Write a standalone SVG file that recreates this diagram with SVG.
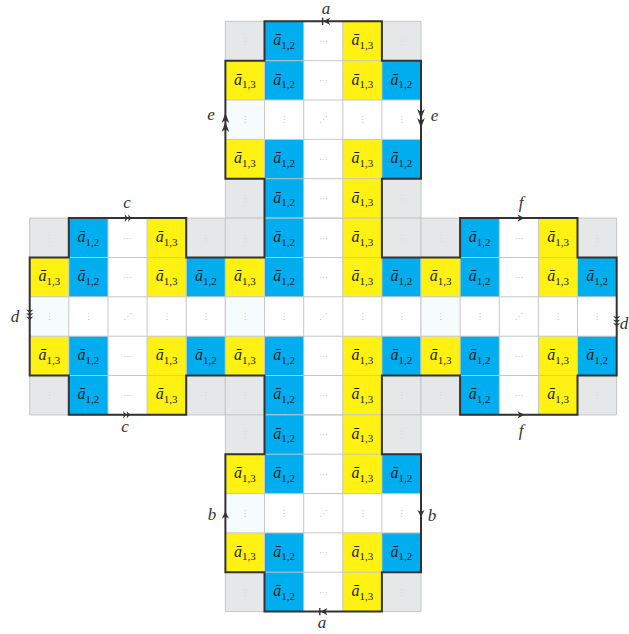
<svg xmlns="http://www.w3.org/2000/svg" xmlns:xlink="http://www.w3.org/1999/xlink" width="629" height="634" viewBox="0 0 629 634">
<style>
.g{fill:#e6e7e8}
.b{fill:#00aeef}
.y{fill:#fff212}
.w0{fill:#f6fbfc}
.grid{fill:none;stroke:#c6c6c6;stroke-width:1}
.t{font-family:"Liberation Serif","DejaVu Serif",serif;font-style:italic;font-size:16px;fill:#1e1e1e;text-anchor:middle}
.s{font-style:normal;font-size:11px}
.d{font-family:"DejaVu Sans",sans-serif;font-size:8px;fill:#bcbcbc;text-anchor:middle}
.dg{font-family:"DejaVu Sans",sans-serif;font-size:8px;fill:#d6d6d6;text-anchor:middle}
.lbl{font-family:"Liberation Serif","DejaVu Serif",serif;font-style:italic;font-size:17px;fill:#333;text-anchor:middle}
.outline{fill:none;stroke:#333;stroke-width:2;stroke-linejoin:miter}
.mk{fill:#333;stroke:none}
.bar{stroke:#333;stroke-width:1.4}
</style>
<defs>
<path id="ah" d="M0,0 L-7,-3.6 L-5,0 L-7,3.6 Z"/>
<path id="ahl" d="M0,0 L-10,-3.8 L-7,0 L-10,3.8 Z"/>
<path id="ch" d="M0,0 L-3.5,-3.8 L-2.5,0 L-3.5,3.8 Z"/>
</defs>
<rect width="629" height="634" fill="#fff"/>

<g id="block-top" transform="translate(225.4,21.3)">
<rect class="g" x="0" y="0" width="39.1" height="39.4"/><rect class="g" x="156.5" y="0" width="39.1" height="39.4"/><rect class="g" x="0" y="157.4" width="39.1" height="39.4"/><rect class="g" x="156.5" y="157.4" width="39.1" height="39.4"/>
<rect class="b" x="39.1" y="0" width="39.2" height="78.7"/><rect class="b" x="39.1" y="118.1" width="39.2" height="78.7"/><rect class="b" x="156.5" y="39.4" width="39.1" height="39.3"/><rect class="b" x="156.5" y="118.1" width="39.1" height="39.3"/>
<rect class="y" x="117.4" y="0" width="39.1" height="78.7"/><rect class="y" x="117.4" y="118.1" width="39.1" height="78.7"/><rect class="y" x="0" y="39.4" width="39.1" height="39.3"/><rect class="y" x="0" y="118.1" width="39.1" height="39.3"/>
<rect class="w0" x="0" y="78.7" width="39.1" height="39.4"/>
<path class="grid" d="M0,0H195.6M0,39.4H195.6M0,78.7H195.6M0,118.1H195.6M0,157.4H195.6M0,196.8H195.6M0,0V196.8M39.1,0V196.8M78.3,0V196.8M117.4,0V196.8M156.5,0V196.8M195.6,0V196.8"/>
<text class="t" x="58.7" y="24">ā<tspan class="s" dy="3.5">1,2</tspan></text><text class="t" x="137" y="24">ā<tspan class="s" dy="3.5">1,3</tspan></text>
<text class="t" x="19.6" y="63.3">ā<tspan class="s" dy="3.5">1,3</tspan></text><text class="t" x="58.7" y="63.3">ā<tspan class="s" dy="3.5">1,2</tspan></text><text class="t" x="137" y="63.3">ā<tspan class="s" dy="3.5">1,3</tspan></text><text class="t" x="176.1" y="63.3">ā<tspan class="s" dy="3.5">1,2</tspan></text>
<text class="t" x="19.6" y="142">ā<tspan class="s" dy="3.5">1,3</tspan></text><text class="t" x="58.7" y="142">ā<tspan class="s" dy="3.5">1,2</tspan></text><text class="t" x="137" y="142">ā<tspan class="s" dy="3.5">1,3</tspan></text><text class="t" x="176.1" y="142">ā<tspan class="s" dy="3.5">1,2</tspan></text>
<text class="t" x="58.7" y="181.4">ā<tspan class="s" dy="3.5">1,2</tspan></text><text class="t" x="137" y="181.4">ā<tspan class="s" dy="3.5">1,3</tspan></text>
<text class="d" x="97.8" y="22.5">⋯</text><text class="d" x="97.8" y="61.8">⋯</text><text class="d" x="97.8" y="140.5">⋯</text><text class="d" x="97.8" y="179.9">⋯</text>
<text class="d" x="19.6" y="101.2">⋮</text><text class="d" x="58.7" y="101.2">⋮</text><text class="d" x="97.8" y="101.2">⋰</text><text class="d" x="137" y="101.2">⋮</text><text class="d" x="176.1" y="101.2">⋮</text>
<text class="dg" x="19.6" y="22.5">⋮</text><text class="dg" x="176.1" y="22.5">⋮</text><text class="dg" x="19.6" y="179.9">⋮</text><text class="dg" x="176.1" y="179.9">⋮</text>
</g>

<g id="block-left" transform="translate(29.7,218.1)">
<rect class="g" x="0" y="0" width="39.1" height="39.4"/><rect class="g" x="156.5" y="0" width="39.1" height="39.4"/><rect class="g" x="0" y="157.4" width="39.1" height="39.4"/><rect class="g" x="156.5" y="157.4" width="39.1" height="39.4"/>
<rect class="b" x="39.1" y="0" width="39.2" height="78.7"/><rect class="b" x="39.1" y="118.1" width="39.2" height="78.7"/><rect class="b" x="156.5" y="39.4" width="39.1" height="39.3"/><rect class="b" x="156.5" y="118.1" width="39.1" height="39.3"/>
<rect class="y" x="117.4" y="0" width="39.1" height="78.7"/><rect class="y" x="117.4" y="118.1" width="39.1" height="78.7"/><rect class="y" x="0" y="39.4" width="39.1" height="39.3"/><rect class="y" x="0" y="118.1" width="39.1" height="39.3"/>
<rect class="w0" x="0" y="78.7" width="39.1" height="39.4"/>
<path class="grid" d="M0,0H195.6M0,39.4H195.6M0,78.7H195.6M0,118.1H195.6M0,157.4H195.6M0,196.8H195.6M0,0V196.8M39.1,0V196.8M78.3,0V196.8M117.4,0V196.8M156.5,0V196.8M195.6,0V196.8"/>
<text class="t" x="58.7" y="24">ā<tspan class="s" dy="3.5">1,2</tspan></text><text class="t" x="137" y="24">ā<tspan class="s" dy="3.5">1,3</tspan></text>
<text class="t" x="19.6" y="63.3">ā<tspan class="s" dy="3.5">1,3</tspan></text><text class="t" x="58.7" y="63.3">ā<tspan class="s" dy="3.5">1,2</tspan></text><text class="t" x="137" y="63.3">ā<tspan class="s" dy="3.5">1,3</tspan></text><text class="t" x="176.1" y="63.3">ā<tspan class="s" dy="3.5">1,2</tspan></text>
<text class="t" x="19.6" y="142">ā<tspan class="s" dy="3.5">1,3</tspan></text><text class="t" x="58.7" y="142">ā<tspan class="s" dy="3.5">1,2</tspan></text><text class="t" x="137" y="142">ā<tspan class="s" dy="3.5">1,3</tspan></text><text class="t" x="176.1" y="142">ā<tspan class="s" dy="3.5">1,2</tspan></text>
<text class="t" x="58.7" y="181.4">ā<tspan class="s" dy="3.5">1,2</tspan></text><text class="t" x="137" y="181.4">ā<tspan class="s" dy="3.5">1,3</tspan></text>
<text class="d" x="97.8" y="22.5">⋯</text><text class="d" x="97.8" y="61.8">⋯</text><text class="d" x="97.8" y="140.5">⋯</text><text class="d" x="97.8" y="179.9">⋯</text>
<text class="d" x="19.6" y="101.2">⋮</text><text class="d" x="58.7" y="101.2">⋮</text><text class="d" x="97.8" y="101.2">⋰</text><text class="d" x="137" y="101.2">⋮</text><text class="d" x="176.1" y="101.2">⋮</text>
<text class="dg" x="19.6" y="22.5">⋮</text><text class="dg" x="176.1" y="22.5">⋮</text><text class="dg" x="19.6" y="179.9">⋮</text><text class="dg" x="176.1" y="179.9">⋮</text>
</g>

<g id="block-center" transform="translate(225.4,218.1)">
<rect class="g" x="0" y="0" width="39.1" height="39.4"/><rect class="g" x="156.5" y="0" width="39.1" height="39.4"/><rect class="g" x="0" y="157.4" width="39.1" height="39.4"/><rect class="g" x="156.5" y="157.4" width="39.1" height="39.4"/>
<rect class="b" x="39.1" y="0" width="39.2" height="78.7"/><rect class="b" x="39.1" y="118.1" width="39.2" height="78.7"/><rect class="b" x="156.5" y="39.4" width="39.1" height="39.3"/><rect class="b" x="156.5" y="118.1" width="39.1" height="39.3"/>
<rect class="y" x="117.4" y="0" width="39.1" height="78.7"/><rect class="y" x="117.4" y="118.1" width="39.1" height="78.7"/><rect class="y" x="0" y="39.4" width="39.1" height="39.3"/><rect class="y" x="0" y="118.1" width="39.1" height="39.3"/>
<rect class="w0" x="0" y="78.7" width="39.1" height="39.4"/>
<path class="grid" d="M0,0H195.6M0,39.4H195.6M0,78.7H195.6M0,118.1H195.6M0,157.4H195.6M0,196.8H195.6M0,0V196.8M39.1,0V196.8M78.3,0V196.8M117.4,0V196.8M156.5,0V196.8M195.6,0V196.8"/>
<text class="t" x="58.7" y="24">ā<tspan class="s" dy="3.5">1,2</tspan></text><text class="t" x="137" y="24">ā<tspan class="s" dy="3.5">1,3</tspan></text>
<text class="t" x="19.6" y="63.3">ā<tspan class="s" dy="3.5">1,3</tspan></text><text class="t" x="58.7" y="63.3">ā<tspan class="s" dy="3.5">1,2</tspan></text><text class="t" x="137" y="63.3">ā<tspan class="s" dy="3.5">1,3</tspan></text><text class="t" x="176.1" y="63.3">ā<tspan class="s" dy="3.5">1,2</tspan></text>
<text class="t" x="19.6" y="142">ā<tspan class="s" dy="3.5">1,3</tspan></text><text class="t" x="58.7" y="142">ā<tspan class="s" dy="3.5">1,2</tspan></text><text class="t" x="137" y="142">ā<tspan class="s" dy="3.5">1,3</tspan></text><text class="t" x="176.1" y="142">ā<tspan class="s" dy="3.5">1,2</tspan></text>
<text class="t" x="58.7" y="181.4">ā<tspan class="s" dy="3.5">1,2</tspan></text><text class="t" x="137" y="181.4">ā<tspan class="s" dy="3.5">1,3</tspan></text>
<text class="d" x="97.8" y="22.5">⋯</text><text class="d" x="97.8" y="61.8">⋯</text><text class="d" x="97.8" y="140.5">⋯</text><text class="d" x="97.8" y="179.9">⋯</text>
<text class="d" x="19.6" y="101.2">⋮</text><text class="d" x="58.7" y="101.2">⋮</text><text class="d" x="97.8" y="101.2">⋰</text><text class="d" x="137" y="101.2">⋮</text><text class="d" x="176.1" y="101.2">⋮</text>
<text class="dg" x="19.6" y="22.5">⋮</text><text class="dg" x="176.1" y="22.5">⋮</text><text class="dg" x="19.6" y="179.9">⋮</text><text class="dg" x="176.1" y="179.9">⋮</text>
</g>

<g id="block-right" transform="translate(421,218.1)">
<rect class="g" x="0" y="0" width="39.1" height="39.4"/><rect class="g" x="156.5" y="0" width="39.1" height="39.4"/><rect class="g" x="0" y="157.4" width="39.1" height="39.4"/><rect class="g" x="156.5" y="157.4" width="39.1" height="39.4"/>
<rect class="b" x="39.1" y="0" width="39.2" height="78.7"/><rect class="b" x="39.1" y="118.1" width="39.2" height="78.7"/><rect class="b" x="156.5" y="39.4" width="39.1" height="39.3"/><rect class="b" x="156.5" y="118.1" width="39.1" height="39.3"/>
<rect class="y" x="117.4" y="0" width="39.1" height="78.7"/><rect class="y" x="117.4" y="118.1" width="39.1" height="78.7"/><rect class="y" x="0" y="39.4" width="39.1" height="39.3"/><rect class="y" x="0" y="118.1" width="39.1" height="39.3"/>
<rect class="w0" x="0" y="78.7" width="39.1" height="39.4"/>
<path class="grid" d="M0,0H195.6M0,39.4H195.6M0,78.7H195.6M0,118.1H195.6M0,157.4H195.6M0,196.8H195.6M0,0V196.8M39.1,0V196.8M78.3,0V196.8M117.4,0V196.8M156.5,0V196.8M195.6,0V196.8"/>
<text class="t" x="58.7" y="24">ā<tspan class="s" dy="3.5">1,2</tspan></text><text class="t" x="137" y="24">ā<tspan class="s" dy="3.5">1,3</tspan></text>
<text class="t" x="19.6" y="63.3">ā<tspan class="s" dy="3.5">1,3</tspan></text><text class="t" x="58.7" y="63.3">ā<tspan class="s" dy="3.5">1,2</tspan></text><text class="t" x="137" y="63.3">ā<tspan class="s" dy="3.5">1,3</tspan></text><text class="t" x="176.1" y="63.3">ā<tspan class="s" dy="3.5">1,2</tspan></text>
<text class="t" x="19.6" y="142">ā<tspan class="s" dy="3.5">1,3</tspan></text><text class="t" x="58.7" y="142">ā<tspan class="s" dy="3.5">1,2</tspan></text><text class="t" x="137" y="142">ā<tspan class="s" dy="3.5">1,3</tspan></text><text class="t" x="176.1" y="142">ā<tspan class="s" dy="3.5">1,2</tspan></text>
<text class="t" x="58.7" y="181.4">ā<tspan class="s" dy="3.5">1,2</tspan></text><text class="t" x="137" y="181.4">ā<tspan class="s" dy="3.5">1,3</tspan></text>
<text class="d" x="97.8" y="22.5">⋯</text><text class="d" x="97.8" y="61.8">⋯</text><text class="d" x="97.8" y="140.5">⋯</text><text class="d" x="97.8" y="179.9">⋯</text>
<text class="d" x="19.6" y="101.2">⋮</text><text class="d" x="58.7" y="101.2">⋮</text><text class="d" x="97.8" y="101.2">⋰</text><text class="d" x="137" y="101.2">⋮</text><text class="d" x="176.1" y="101.2">⋮</text>
<text class="dg" x="19.6" y="22.5">⋮</text><text class="dg" x="176.1" y="22.5">⋮</text><text class="dg" x="19.6" y="179.9">⋮</text><text class="dg" x="176.1" y="179.9">⋮</text>
</g>

<g id="block-bottom" transform="translate(225.4,414.8)">
<rect class="g" x="0" y="0" width="39.1" height="39.4"/><rect class="g" x="156.5" y="0" width="39.1" height="39.4"/><rect class="g" x="0" y="157.4" width="39.1" height="39.4"/><rect class="g" x="156.5" y="157.4" width="39.1" height="39.4"/>
<rect class="b" x="39.1" y="0" width="39.2" height="78.7"/><rect class="b" x="39.1" y="118.1" width="39.2" height="78.7"/><rect class="b" x="156.5" y="39.4" width="39.1" height="39.3"/><rect class="b" x="156.5" y="118.1" width="39.1" height="39.3"/>
<rect class="y" x="117.4" y="0" width="39.1" height="78.7"/><rect class="y" x="117.4" y="118.1" width="39.1" height="78.7"/><rect class="y" x="0" y="39.4" width="39.1" height="39.3"/><rect class="y" x="0" y="118.1" width="39.1" height="39.3"/>
<rect class="w0" x="0" y="78.7" width="39.1" height="39.4"/>
<path class="grid" d="M0,0H195.6M0,39.4H195.6M0,78.7H195.6M0,118.1H195.6M0,157.4H195.6M0,196.8H195.6M0,0V196.8M39.1,0V196.8M78.3,0V196.8M117.4,0V196.8M156.5,0V196.8M195.6,0V196.8"/>
<text class="t" x="58.7" y="24">ā<tspan class="s" dy="3.5">1,2</tspan></text><text class="t" x="137" y="24">ā<tspan class="s" dy="3.5">1,3</tspan></text>
<text class="t" x="19.6" y="63.3">ā<tspan class="s" dy="3.5">1,3</tspan></text><text class="t" x="58.7" y="63.3">ā<tspan class="s" dy="3.5">1,2</tspan></text><text class="t" x="137" y="63.3">ā<tspan class="s" dy="3.5">1,3</tspan></text><text class="t" x="176.1" y="63.3">ā<tspan class="s" dy="3.5">1,2</tspan></text>
<text class="t" x="19.6" y="142">ā<tspan class="s" dy="3.5">1,3</tspan></text><text class="t" x="58.7" y="142">ā<tspan class="s" dy="3.5">1,2</tspan></text><text class="t" x="137" y="142">ā<tspan class="s" dy="3.5">1,3</tspan></text><text class="t" x="176.1" y="142">ā<tspan class="s" dy="3.5">1,2</tspan></text>
<text class="t" x="58.7" y="181.4">ā<tspan class="s" dy="3.5">1,2</tspan></text><text class="t" x="137" y="181.4">ā<tspan class="s" dy="3.5">1,3</tspan></text>
<text class="d" x="97.8" y="22.5">⋯</text><text class="d" x="97.8" y="61.8">⋯</text><text class="d" x="97.8" y="140.5">⋯</text><text class="d" x="97.8" y="179.9">⋯</text>
<text class="d" x="19.6" y="101.2">⋮</text><text class="d" x="58.7" y="101.2">⋮</text><text class="d" x="97.8" y="101.2">⋰</text><text class="d" x="137" y="101.2">⋮</text><text class="d" x="176.1" y="101.2">⋮</text>
<text class="dg" x="19.6" y="22.5">⋮</text><text class="dg" x="176.1" y="22.5">⋮</text><text class="dg" x="19.6" y="179.9">⋮</text><text class="dg" x="176.1" y="179.9">⋮</text>
</g>

<g id="connectors">
<path class="outline" d="M264.5,21.3 H381.9 V60.7 H421 V178.7 H381.9 V257.4 H460.1 V218.1 H577.5 V257.4 H616.7 V375.5 H577.5 V414.8 H460.1 V375.5 H381.9 V454.2 H421 V572.2 H381.9 V611.6 H264.5 V572.2 H225.4 V454.2 H264.5 V375.5 H186.2 V414.8 H68.8 V375.5 H29.7 V257.4 H68.8 V218.1 H186.2 V257.4 H264.5 V178.7 H225.4 V60.7 H264.5 Z"/>
<line class="bar" x1="322.6" y1="17.6" x2="322.6" y2="25"/>
<use class="mk" xlink:href="#ah" href="#ah" transform="translate(323.2,21.3) rotate(180)"/>
<line class="bar" x1="319.8" y1="607.9" x2="319.8" y2="615.3"/>
<use class="mk" xlink:href="#ah" href="#ah" transform="translate(320.4,611.6) rotate(180)"/>
<use class="mk" xlink:href="#ahl" href="#ahl" transform="translate(225.4,113) rotate(-90)"/>
<use class="mk" xlink:href="#ahl" href="#ahl" transform="translate(225.4,122) rotate(-90)"/>
<use class="mk" xlink:href="#ahl" href="#ahl" transform="translate(421,128) rotate(90)"/>
<use class="mk" xlink:href="#ahl" href="#ahl" transform="translate(421,119) rotate(90)"/>
<use class="mk" xlink:href="#ch" href="#ch" transform="translate(128,218.1)"/>
<use class="mk" xlink:href="#ch" href="#ch" transform="translate(131.5,218.1)"/>
<use class="mk" xlink:href="#ch" href="#ch" transform="translate(126.5,414.8)"/>
<use class="mk" xlink:href="#ch" href="#ch" transform="translate(130,414.8)"/>
<use class="mk" xlink:href="#ch" href="#ch" transform="translate(29.7,313) rotate(90)"/>
<use class="mk" xlink:href="#ch" href="#ch" transform="translate(29.7,316.5) rotate(90)"/>
<use class="mk" xlink:href="#ch" href="#ch" transform="translate(29.7,320) rotate(90)"/>
<use class="mk" xlink:href="#ch" href="#ch" transform="translate(616.7,319.5) rotate(90)"/>
<use class="mk" xlink:href="#ch" href="#ch" transform="translate(616.7,323) rotate(90)"/>
<use class="mk" xlink:href="#ch" href="#ch" transform="translate(616.7,326.5) rotate(90)"/>
<use class="mk" xlink:href="#ah" href="#ah" transform="translate(524.5,218.1)"/>
<use class="mk" xlink:href="#ah" href="#ah" transform="translate(524.5,414.8)"/>
<use class="mk" xlink:href="#ah" href="#ah" transform="translate(225.4,511.5) rotate(-90)"/>
<use class="mk" xlink:href="#ah" href="#ah" transform="translate(421,517) rotate(90)"/>
</g>

<g id="labels">
<text class="lbl" x="326" y="13.5">a</text>
<text class="lbl" x="322" y="628">a</text>
<text class="lbl" x="211" y="120">e</text>
<text class="lbl" x="434.5" y="121">e</text>
<text class="lbl" x="127" y="208">c</text>
<text class="lbl" x="125" y="432">c</text>
<text class="lbl" x="15" y="322">d</text>
<text class="lbl" x="624" y="329">d</text>
<text class="lbl" x="521" y="208">f</text>
<text class="lbl" x="521" y="436">f</text>
<text class="lbl" x="212" y="520">b</text>
<text class="lbl" x="432" y="521">b</text>
</g>
</svg>
